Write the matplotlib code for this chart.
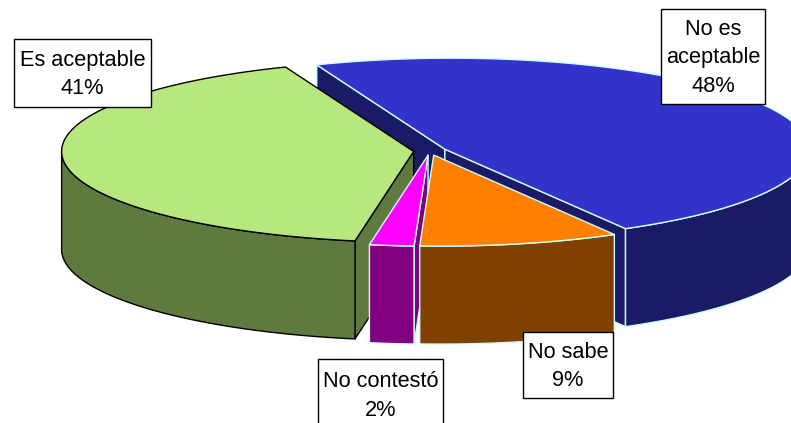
import numpy as np
import matplotlib
matplotlib.use("Agg")
import matplotlib.pyplot as plt
from matplotlib.patches import Polygon, Rectangle

plt.rcParams['font.family'] = ['Liberation Sans', 'DejaVu Sans']

# Datos (percent, clockwise from the start angle)
categories = ["No es\naceptable", "No sabe", "No contestó", "Es aceptable"]
values = [48, 9, 2, 41]
top_colors = ["#3333CC", "#FF8000", "#FF00FF", "#B7E87F"]
side_colors = ["#1A1A66", "#804000", "#800080", "#5F7A3E"]
edge_colors = ["#CCFFFF", "#CCFFFF", "#CCFFFF", "#000000"]
draw_order = [0, 3, 2, 1]

# label boxes: x0, y0, x1, y1 in pixels
boxes = [(661, 9, 765, 104), (523, 332, 613, 398), (318, 359, 443, 430), (14, 39, 151, 107)]

start_angle = 112.0
cx, cy = 430.0, 151.0
rx, ry = 358.0, 91.0
rim_shift = 6.0
depth = 98.0
explode = 0.046

fig = plt.figure(figsize=(7.91, 4.23), dpi=100)
ax = fig.add_axes([0, 0, 1, 1])
ax.set_xlim(0, 791)
ax.set_ylim(423, 0)
ax.axis("off")

angles = start_angle - np.cumsum([0] + values) * 3.6


def draw_slice(i):
    a0, a1 = angles[i], angles[i + 1]
    mid = np.radians((a0 + a1) / 2)
    ox = cx + explode * rx * np.cos(mid)
    oy = cy - explode * ry * np.sin(mid)
    t = np.radians(np.linspace(a0, a1, 200))
    xs = ox + rim_shift + rx * np.cos(t)
    ys = oy - ry * np.sin(t)
    style = dict(edgecolor=edge_colors[i], linewidth=1.0, joinstyle="round")

    # cut faces, only those turned to the viewer
    for k, normal in ((0, a0 + 90), (-1, a1 - 90)):
        if np.sin(np.radians(normal)) < 0:
            quad = [(ox, oy), (xs[k], ys[k]), (xs[k], ys[k] + depth), (ox, oy + depth)]
            ax.add_patch(Polygon(quad, closed=True, facecolor=side_colors[i], **style))

    # outer wall, only the part facing the viewer
    front = np.sin(t) <= 0
    if front.any():
        upper = np.column_stack([xs[front], ys[front]])
        lower = np.column_stack([xs[front], ys[front] + depth])[::-1]
        ax.add_patch(Polygon(np.vstack([upper, lower]), closed=True,
                             facecolor=side_colors[i], **style))

    # top face
    top = np.vstack([[(ox, oy)], np.column_stack([xs, ys])])
    ax.add_patch(Polygon(top, closed=True, facecolor=top_colors[i], **style))


for i in draw_order:
    draw_slice(i)

for name, val, box in zip(categories, values, boxes):
    x0, y0, x1, y1 = box
    ax.add_patch(Rectangle((x0, y0), x1 - x0, y1 - y0, facecolor="white",
                           edgecolor="black", linewidth=1.0, zorder=5))
    ax.text((x0 + x1) / 2, (y0 + y1) / 2 + 1.5, f"{name}\n{val}%", ha="center", va="center",
            fontsize=15.7, linespacing=1.45, color="black", zorder=6)

fig.savefig("out.png", dpi=100)
